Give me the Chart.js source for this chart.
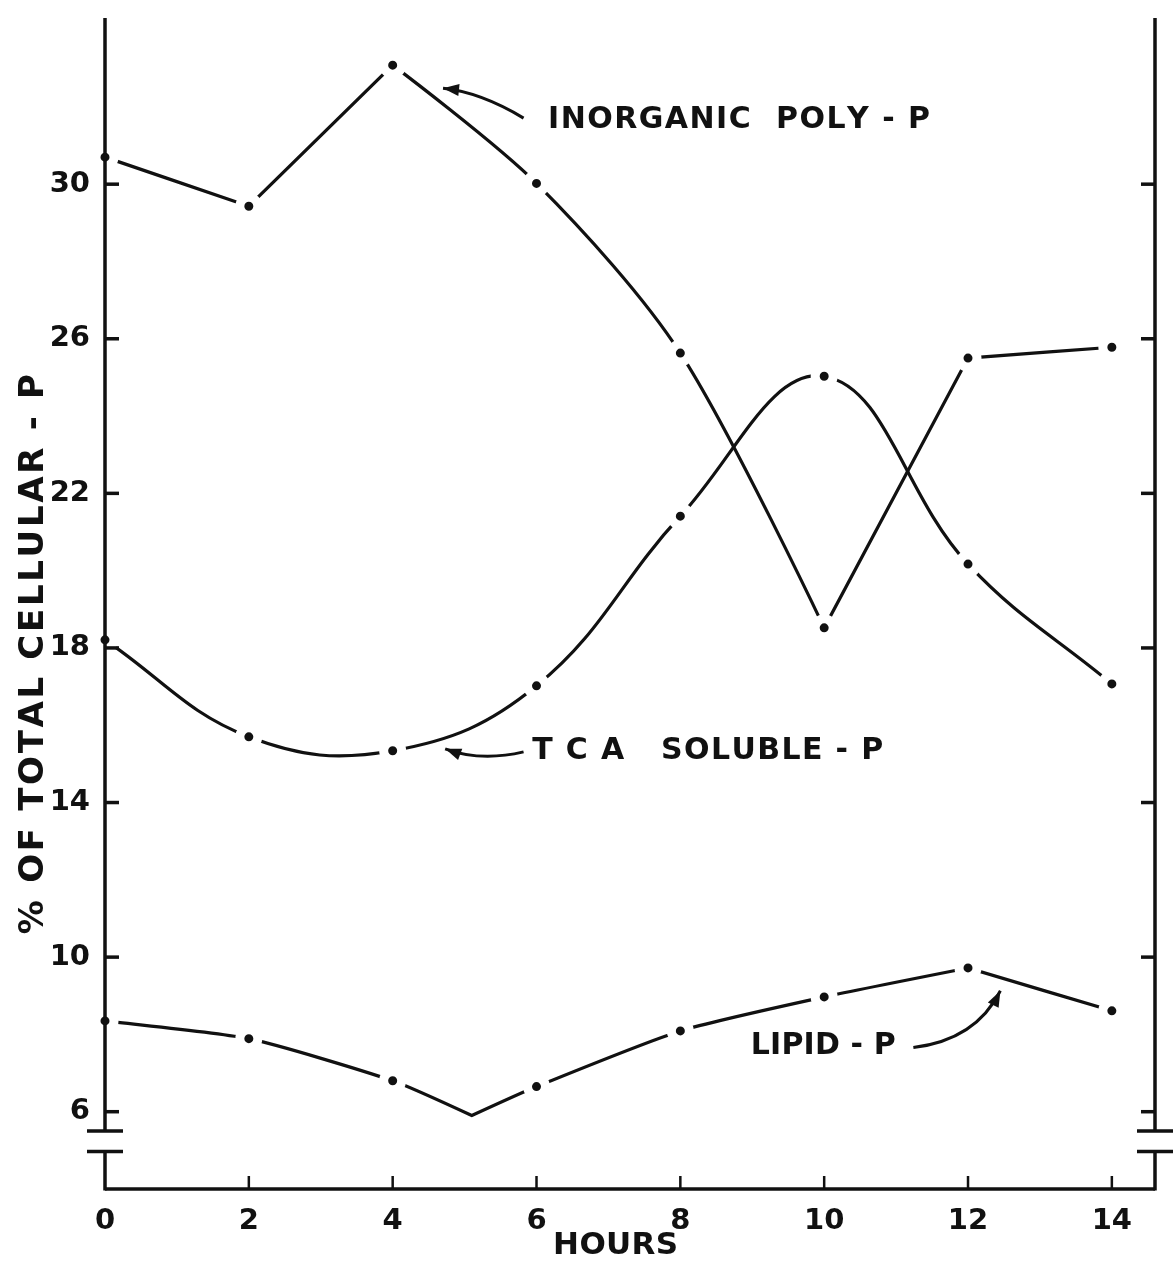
<!DOCTYPE html>
<html>
<head>
<meta charset="utf-8">
<script src="https://cdn.jsdelivr.net/npm/chart.js@4.4.1/dist/chart.umd.min.js"></script>
<style>
  html, body { margin: 0; padding: 0; background: #fff; }
  #wrap { width: 1175px; height: 1268px; position: relative; }
</style>
</head>
<body>
<div id="wrap"><canvas id="chart"></canvas></div>
<script>
// values
const hours = [0, 2, 4, 6, 8, 10, 12, 14];
const polyP = [30.70, 29.43, 33.08, 30.02, 25.63, 18.52, 25.50, 25.78];
const tcaP = [18.21, 15.70, 15.34, 17.02, 21.41, 25.03, 20.17, 17.07];
const lipidHours = [0, 2, 4, 5.1, 6, 8, 10, 12, 14];
const lipidP = [8.35, 7.89, 6.80, 5.90, 6.65, 8.09, 8.97, 9.72, 8.61];
const xTicks = [0, 2, 4, 6, 8, 10, 12, 14];
const yTicks = [6, 10, 14, 18, 22, 26, 30];
const yTitle = '% OF TOTAL CELLULAR - P';
const xTitle = 'HOURS';

const INK = '#111';
const FONT = '"DejaVu Sans", sans-serif';

// text laid out to a given width, char by char
function drawSpaced(ctx, text, x, y, width, align) {
  const chars = [...text];
  const natural = chars.reduce((s, c) => s + ctx.measureText(c).width, 0);
  const extra = chars.length > 1 ? (width - natural) / (chars.length - 1) : 0;
  let cx = align === 'center' ? x - width / 2 : x;
  ctx.textAlign = 'left';
  chars.forEach(c => {
    ctx.fillText(c, cx, y);
    cx += ctx.measureText(c).width + extra;
  });
}

function arrow(ctx, p0, c, p1) {
  ctx.beginPath();
  ctx.moveTo(p0[0], p0[1]);
  ctx.quadraticCurveTo(c[0], c[1], p1[0], p1[1]);
  ctx.stroke();
  const ang = Math.atan2(p1[1] - c[1], p1[0] - c[0]);
  const L = 16, W = 6;
  ctx.beginPath();
  ctx.moveTo(p1[0], p1[1]);
  ctx.lineTo(p1[0] - L * Math.cos(ang) + W * Math.sin(ang), p1[1] - L * Math.sin(ang) - W * Math.cos(ang));
  ctx.lineTo(p1[0] - L * Math.cos(ang) - W * Math.sin(ang), p1[1] - L * Math.sin(ang) + W * Math.cos(ang));
  ctx.closePath();
  ctx.fill();
}

// curve labels, in data units (hours, %)
const notes = [
  { text: 'INORGANIC  POLY - P', x: 6.16, y: 31.68, width: 382,
    from: [5.82, 31.71], ctrl: [5.22, 32.38], to: [4.70, 32.48] },
  { text: 'T C A   SOLUBLE - P', x: 5.94, y: 15.36, width: 351,
    from: [5.82, 15.31], ctrl: [5.22, 15.05], to: [4.73, 15.39] },
  { text: 'LIPID - P', x: 8.98, y: 7.71, width: 145,
    from: [11.24, 7.66], ctrl: [12.11, 7.86], to: [12.45, 9.13] },
];

const BREAK_HI = 5.5, BREAK_LO = 4.97;

const figurePlugin = {
  id: 'figure',
  beforeDatasetDraw(chart, args) {
    // sharp corners where the hand-drawn curve has a kink
    const ds = chart.data.datasets[args.index];
    if (!ds.sharp) return;
    const meta = args.meta;
    meta.dataset.updateControlPoints(chart.chartArea, 'x');
    ds.sharp.forEach(i => {
      const p = meta.data[i];
      p.cp1x = p.cp2x = p.x;
      p.cp1y = p.cp2y = p.y;
    });
  },
  afterDraw(chart) {
    const { ctx, chartArea: a, scales: { x, y } } = chart;
    const yHi = y.getPixelForValue(BREAK_HI);
    const yLo = y.getPixelForValue(BREAK_LO);
    ctx.save();
    ctx.strokeStyle = INK;
    ctx.fillStyle = INK;
    ctx.lineWidth = 3.5;
    ctx.lineCap = 'butt';

    // left and right axes with the break
    [[a.left, 1], [a.right, -1]].forEach(([ax, dir]) => {
      ctx.beginPath();
      ctx.moveTo(ax, a.top);
      ctx.lineTo(ax, yHi);
      ctx.moveTo(ax, yLo);
      ctx.lineTo(ax, a.bottom + 1.5);
      ctx.stroke();
      ctx.beginPath();
      ctx.moveTo(ax - 18, yHi); ctx.lineTo(ax + 18, yHi);
      ctx.moveTo(ax - 18, yLo); ctx.lineTo(ax + 18, yLo);
      ctx.stroke();
      yTicks.forEach(v => {
        const py = y.getPixelForValue(v);
        ctx.beginPath();
        ctx.moveTo(ax, py);
        ctx.lineTo(ax + dir * 14, py);
        ctx.stroke();
      });
    });

    // bottom axis
    ctx.beginPath();
    ctx.moveTo(a.left, a.bottom);
    ctx.lineTo(a.right, a.bottom);
    ctx.stroke();
    ctx.lineWidth = 2.5;
    xTicks.slice(1).forEach(v => {
      const px = x.getPixelForValue(v);
      ctx.beginPath();
      ctx.moveTo(px, a.bottom);
      ctx.lineTo(px, a.bottom - 13);
      ctx.stroke();
    });

    // curve labels and arrows
    ctx.font = 'bold 30px ' + FONT;
    ctx.textBaseline = 'middle';
    ctx.lineWidth = 3;
    const P = (pt) => [x.getPixelForValue(pt[0]), y.getPixelForValue(pt[1])];
    notes.forEach(n => {
      drawSpaced(ctx, n.text, x.getPixelForValue(n.x), y.getPixelForValue(n.y) + 1, n.width, 'left');
      arrow(ctx, P(n.from), P(n.ctrl), P(n.to));
    });

    // axis titles
    ctx.font = 'bold 31px ' + FONT;
    drawSpaced(ctx, xTitle, x.getPixelForValue(7.1), a.bottom + 57, 125, 'center');
    ctx.save();
    ctx.translate(a.left - 71, y.getPixelForValue(17.84));
    ctx.rotate(-Math.PI / 2);
    ctx.font = 'bold 34px ' + FONT;
    drawSpaced(ctx, yTitle, 0, 0, 560, 'center');
    ctx.restore();
    ctx.restore();
  },
};

const lineStyle = {
  borderColor: INK,
  borderWidth: 3.2,
  pointBackgroundColor: INK,
  pointBorderColor: '#fff',
  pointRadius: 9,
  pointBorderWidth: 9,
  fill: false,
  clip: false,
};

new Chart(document.getElementById('chart'), {
  type: 'line',
  data: {
    datasets: [
      {
        label: 'Inorganic poly-P',
        data: hours.map((h, i) => ({ x: h, y: polyP[i] })),
        ...lineStyle,
        tension: 0.3,
        sharp: [1, 2, 5, 6],
      },
      {
        label: 'TCA soluble-P',
        data: hours.map((h, i) => ({ x: h, y: tcaP[i] })),
        ...lineStyle,
        tension: 0.4,
      },
      {
        label: 'Lipid-P',
        data: lipidHours.map((h, i) => ({ x: h, y: lipidP[i] })),
        ...lineStyle,
        pointRadius: lipidHours.map(h => (h === 5.1 ? 0 : 9)),
        pointBorderWidth: lipidHours.map(h => (h === 5.1 ? 0 : 9)),
        tension: 0.2,
        sharp: [3, 7],
      },
    ],
  },
  options: {
    responsive: true,
    maintainAspectRatio: false,
    animation: false,
    events: [],
    layout: { padding: { top: 17, right: 20, left: 0, bottom: 0 } },
    plugins: {
      legend: { display: false },
      tooltip: { enabled: false },
    },
    scales: {
      x: {
        type: 'linear',
        min: 0,
        max: 14.6,
        afterBuildTicks: (s) => { s.ticks = xTicks.map(v => ({ value: v })); },
        afterFit: (s) => { s.height = 79; s.paddingLeft = 0; s.paddingRight = 0; },
        grid: { display: false, drawTicks: false },
        border: { display: false },
        ticks: { color: INK, padding: 15, maxRotation: 0, font: { family: FONT, size: 29, weight: 'bold' } },
      },
      y: {
        min: 4,
        max: 34.3,
        afterBuildTicks: (s) => { s.ticks = yTicks.map(v => ({ value: v })); },
        afterFit: (s) => { s.width = 105; s.paddingTop = 0; s.paddingBottom = 0; },
        grid: { display: false, drawTicks: false },
        border: { display: false },
        ticks: { color: INK, padding: 15, font: { family: FONT, size: 29, weight: 'bold' } },
      },
    },
  },
  plugins: [figurePlugin],
});
</script>
</body>
</html>
